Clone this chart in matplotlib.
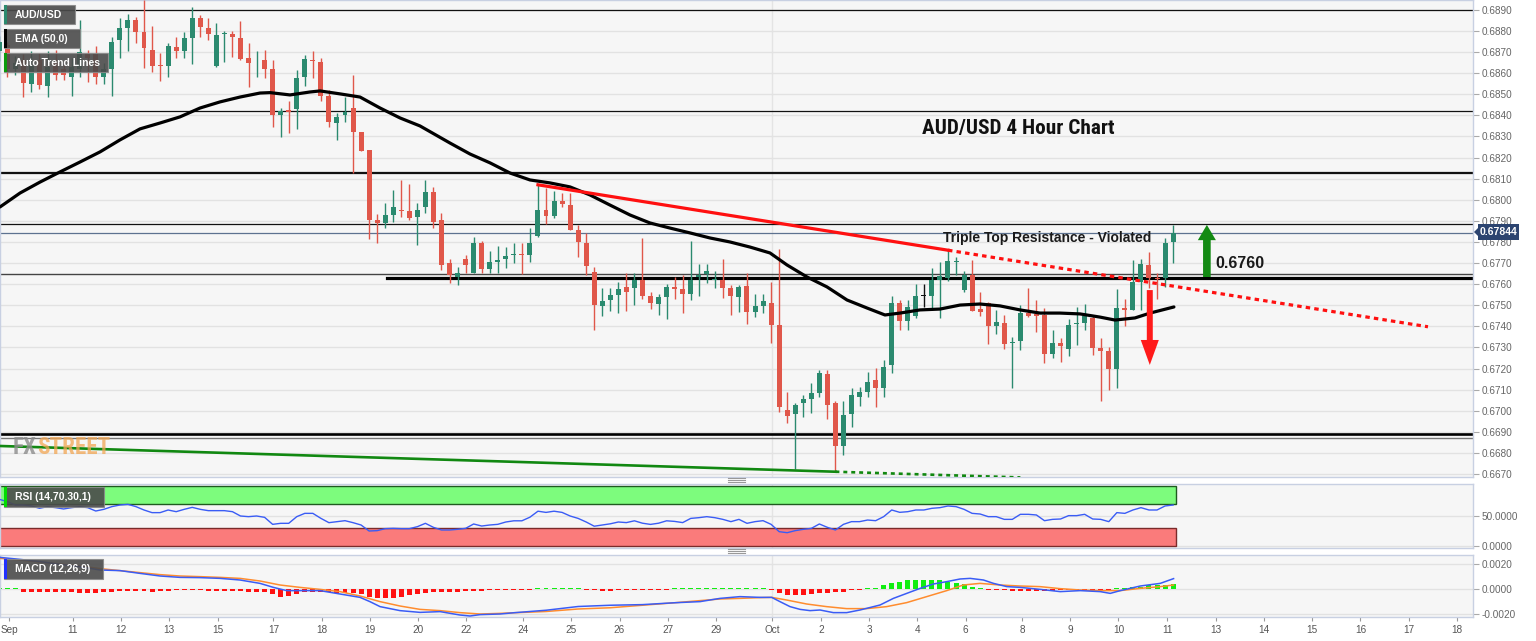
import numpy as np
import matplotlib
matplotlib.use('Agg')
import matplotlib.pyplot as plt
from matplotlib.patches import Rectangle
from matplotlib.lines import Line2D
from matplotlib import font_manager

plt.rcParams['font.family'] = ['Liberation Sans', 'DejaVu Sans']

# ---- 4h candles (index 0 = first visible bar) ----
opens = [0.68705, 0.68735, 0.68620, 0.68663, 0.68550, 0.68663, 0.68540, 0.68650, 0.68620, 0.68580,
         0.68620, 0.68690, 0.68690, 0.68580, 0.68620, 0.68758, 0.68813, 0.68850, 0.68794, 0.68710,
         0.68636, 0.68636, 0.68726, 0.68703, 0.68766, 0.68860, 0.68813, 0.68636, 0.68785, 0.68786,
         0.68766, 0.68674, 0.68656, 0.68663, 0.68619, 0.68402, 0.68425, 0.68429, 0.68581, 0.68664,
         0.68655, 0.68492, 0.68366, 0.68402, 0.68434, 0.68319, 0.68237, 0.67905, 0.67889, 0.67928,
         0.67950, 0.67949, 0.67917, 0.67965, 0.68039, 0.67905, 0.67699, 0.67636, 0.67718, 0.67652,
         0.67794, 0.67671, 0.67707, 0.67718, 0.67737, 0.67739, 0.67737, 0.67826, 0.67952, 0.67924,
         0.67992, 0.67976, 0.67857, 0.67797, 0.67659, 0.67498, 0.67524, 0.67548, 0.67588, 0.67580,
         0.67619, 0.67545, 0.67505, 0.67540, 0.67588, 0.67577, 0.67553, 0.67635, 0.67646, 0.67619,
         0.67619, 0.67583, 0.67540, 0.67591, 0.67466, 0.67498, 0.67509, 0.67406, 0.67003, 0.66984,
         0.67035, 0.67054, 0.67082, 0.67174, 0.67038, 0.66834, 0.66984, 0.67066, 0.67087, 0.67145,
         0.67110, 0.67216, 0.67509, 0.67426, 0.67450, 0.67545, 0.67545, 0.67622, 0.67630, 0.67707,
         0.67572, 0.67643, 0.67480, 0.67509, 0.67403, 0.67417, 0.67322, 0.67332, 0.67461, 0.67458,
         0.67456, 0.67268, 0.67319, 0.67291, 0.67412, 0.67414, 0.67441, 0.67298, 0.67283, 0.67197,
         0.67487, 0.67477, 0.67611, 0.67690, 0.67630, 0.67627, 0.67801]
highs = [0.68775, 0.68750, 0.68680, 0.68690, 0.68703, 0.68695, 0.68703, 0.68710, 0.68640, 0.68670,
         0.68850, 0.68710, 0.68730, 0.68650, 0.68770, 0.68860, 0.68880, 0.68868, 0.68947, 0.68824,
         0.68695, 0.68745, 0.68770, 0.68793, 0.68913, 0.68876, 0.68860, 0.68840, 0.68802, 0.68802,
         0.68849, 0.68742, 0.68707, 0.68710, 0.68663, 0.68434, 0.68466, 0.68616, 0.68687, 0.68703,
         0.68671, 0.68521, 0.68410, 0.68486, 0.68592, 0.68323, 0.68237, 0.67933, 0.67984, 0.68047,
         0.68092, 0.68076, 0.67984, 0.68094, 0.68060, 0.67936, 0.67718, 0.67680, 0.67739, 0.67823,
         0.67807, 0.67755, 0.67782, 0.67775, 0.67797, 0.67794, 0.67865, 0.68071, 0.68055, 0.68044,
         0.68034, 0.68034, 0.67881, 0.67842, 0.67682, 0.67584, 0.67584, 0.67611, 0.67651, 0.67651,
         0.67817, 0.67564, 0.67553, 0.67603, 0.67635, 0.67643, 0.67804, 0.67695, 0.67695, 0.67663,
         0.67717, 0.67596, 0.67596, 0.67651, 0.67553, 0.67553, 0.67611, 0.67766, 0.67087, 0.67039,
         0.67074, 0.67130, 0.67193, 0.67193, 0.67047, 0.67047, 0.67106, 0.67114, 0.67185, 0.67201,
         0.67240, 0.67545, 0.67524, 0.67524, 0.67603, 0.67603, 0.67679, 0.67703, 0.67761, 0.67727,
         0.67663, 0.67714, 0.67561, 0.67517, 0.67477, 0.67453, 0.67351, 0.67501, 0.67584, 0.67524,
         0.67485, 0.67382, 0.67343, 0.67433, 0.67493, 0.67505, 0.67453, 0.67343, 0.67303, 0.67575,
         0.67532, 0.67714, 0.67717, 0.67754, 0.67651, 0.67817, 0.67880]
lows = [0.68660, 0.68580, 0.68590, 0.68489, 0.68513, 0.68524, 0.68486, 0.68570, 0.68570, 0.68490,
        0.68580, 0.68560, 0.68550, 0.68550, 0.68490, 0.68671, 0.68707, 0.68742, 0.68623, 0.68608,
        0.68563, 0.68584, 0.68671, 0.68671, 0.68644, 0.68770, 0.68758, 0.68630, 0.68655, 0.68679,
        0.68663, 0.68533, 0.68584, 0.68576, 0.68344, 0.68297, 0.68316, 0.68334, 0.68537, 0.68576,
        0.68466, 0.68344, 0.68284, 0.68371, 0.68126, 0.68229, 0.67813, 0.67794, 0.67865, 0.67897,
        0.67920, 0.67905, 0.67786, 0.67936, 0.67865, 0.67668, 0.67605, 0.67597, 0.67652, 0.67652,
        0.67655, 0.67655, 0.67655, 0.67676, 0.67699, 0.67649, 0.67703, 0.67823, 0.67886, 0.67913,
        0.67965, 0.67857, 0.67731, 0.67644, 0.67382, 0.67450, 0.67474, 0.67464, 0.67472, 0.67501,
        0.67532, 0.67480, 0.67456, 0.67434, 0.67532, 0.67464, 0.67524, 0.67545, 0.67607, 0.67580,
        0.67535, 0.67456, 0.67466, 0.67411, 0.67445, 0.67464, 0.67322, 0.66995, 0.66940, 0.66722,
        0.66971, 0.66987, 0.67066, 0.66959, 0.66711, 0.66790, 0.66924, 0.67022, 0.67066, 0.67019,
        0.67066, 0.67180, 0.67382, 0.67382, 0.67438, 0.67490, 0.67477, 0.67438, 0.67614, 0.67643,
        0.67564, 0.67472, 0.67450, 0.67316, 0.67366, 0.67295, 0.67106, 0.67287, 0.67445, 0.67374,
        0.67227, 0.67248, 0.67229, 0.67259, 0.67311, 0.67382, 0.67264, 0.67047, 0.67098, 0.67106,
        0.67403, 0.67477, 0.67477, 0.67584, 0.67531, 0.67588, 0.67701]
closes = [0.68750, 0.68620, 0.68650, 0.68552, 0.68640, 0.68545, 0.68631, 0.68590, 0.68590, 0.68630,
          0.68700, 0.68670, 0.68580, 0.68620, 0.68750, 0.68813, 0.68850, 0.68794, 0.68718, 0.68636,
          0.68634, 0.68731, 0.68703, 0.68766, 0.68860, 0.68818, 0.68785, 0.68782, 0.68788, 0.68770,
          0.68666, 0.68650, 0.68660, 0.68620, 0.68402, 0.68423, 0.68415, 0.68576, 0.68666, 0.68660,
          0.68492, 0.68371, 0.68394, 0.68418, 0.68319, 0.68233, 0.67905, 0.67889, 0.67928, 0.67965,
          0.67948, 0.67916, 0.67952, 0.68039, 0.67897, 0.67691, 0.67644, 0.67655, 0.67691, 0.67794,
          0.67671, 0.67706, 0.67714, 0.67734, 0.67739, 0.67737, 0.67797, 0.67952, 0.67924, 0.67992,
          0.67981, 0.67857, 0.67802, 0.67684, 0.67501, 0.67521, 0.67548, 0.67575, 0.67564, 0.67619,
          0.67545, 0.67512, 0.67537, 0.67588, 0.67577, 0.67553, 0.67622, 0.67643, 0.67663, 0.67622,
          0.67583, 0.67543, 0.67588, 0.67466, 0.67498, 0.67521, 0.67406, 0.67016, 0.66976, 0.67027,
          0.67054, 0.67082, 0.67180, 0.67027, 0.66834, 0.66982, 0.67074, 0.67087, 0.67134, 0.67110,
          0.67208, 0.67509, 0.67426, 0.67493, 0.67545, 0.67545, 0.67622, 0.67638, 0.67709, 0.67711,
          0.67643, 0.67472, 0.67470, 0.67403, 0.67419, 0.67316, 0.67326, 0.67461, 0.67450, 0.67450,
          0.67268, 0.67319, 0.67308, 0.67406, 0.67416, 0.67449, 0.67298, 0.67284, 0.67197, 0.67487,
          0.67477, 0.67611, 0.67695, 0.67630, 0.67626, 0.67796, 0.67844]

# EMA(50) at bar positions
ema_idx = [0.09, 2.58, 5.07, 7.55, 10.04, 12.53, 15.02, 17.5, 20.0, 22.48, 24.97, 27.46, 29.94, 32.43,
           33.67, 36.16, 38.65, 39.9, 42.38, 44.87, 47.36, 49.84, 52.33, 56.06, 58.55, 61.04, 63.52,
           66.01, 68.5, 70.99, 73.47, 75.96, 78.45, 80.94, 83.42, 85.91, 88.4, 90.89, 93.37, 95.86,
           97.98, 100.47, 102.95, 105.44, 107.93, 110.16, 112.03, 114.52, 117.0, 119.5, 121.98,
           124.47, 126.96, 129.44, 131.93, 134.42, 136.9, 138.77, 141.26, 143.13, 146.1]
ema_val = [0.67966, 0.68032, 0.68084, 0.68132, 0.68179, 0.68227, 0.68284, 0.68336, 0.68364, 0.68393,
           0.68435, 0.68464, 0.68487, 0.68506, 0.68508, 0.68497, 0.68511, 0.68516, 0.68502, 0.68487,
           0.68435, 0.68388, 0.68350, 0.68269, 0.68217, 0.68175, 0.68127, 0.68094, 0.68080, 0.68061,
           0.68023, 0.67975, 0.67928, 0.67890, 0.67866, 0.67843, 0.67819, 0.67800, 0.67776, 0.67748,
           0.67691, 0.67634, 0.67587, 0.67525, 0.67487, 0.67454, 0.67463, 0.67478, 0.67482, 0.67501,
           0.67506, 0.67497, 0.67478, 0.67463, 0.67463, 0.67459, 0.67444, 0.67430, 0.67440, 0.67463,
           0.67492]

# horizontal support / resistance levels
levels_thin = [0.68900, 0.68421, 0.68131, 0.68125, 0.67884]
level_676_full = 0.67647
level_676_thick = 0.67631
level_669_thick = 0.66889
level_669_thin = 0.66872
last_price = 0.67844

# trend lines (bar index, price)
red_trend = ([67, 118], [0.68071, 0.67761])
red_trend_end = 177.7
green_trend = ([0.09, 104], [0.66833, 0.66711])
green_trend_end = 127.0

# RSI(14)
rsi = [77.8, 73.9, 68.3, 68.3, 66.7, 62.8, 65.6, 63.9, 61.7, 63.9, 65.6, 63.9, 58.3, 61.1, 65.6,
       68.3, 69.4, 65.6, 60.0, 55.6, 55.6, 60.0, 57.2, 61.1, 64.4, 61.1, 58.9, 58.9, 58.9, 57.2,
       50.0, 48.9, 50.0, 47.8, 36.1, 37.8, 37.8, 48.9, 54.4, 54.4, 46.1, 38.9, 40.6, 42.2, 38.9,
       35.0, 25.0, 25.6, 28.9, 29.4, 28.9, 28.9, 32.2, 37.8, 31.1, 26.7, 26.7, 27.8, 29.4, 36.7,
       33.3, 35.0, 36.1,
       40.0, 42.0, 42.0, 48.0, 58.0, 56.0, 58.0, 56.0, 50.0, 46.0, 40.0, 33.0, 35.0, 37.0, 40.0,
       39.0, 42.0, 38.0, 36.0, 38.0, 42.0, 41.0, 39.0, 46.0,
       47.2, 48.9, 47.2, 44.4, 40.6, 44.4, 37.8, 40.6, 42.2, 36.1, 23.9, 22.2, 25.6, 27.8, 29.4,
       36.7, 31.1, 26.7, 36.1, 40.6, 40.6, 43.3, 42.2, 48.9, 60.0, 56.1, 57.2, 60.0, 60.0, 62.8,
       63.9, 66.7, 65.6, 61.1, 54.4, 53.3, 48.9, 48.9, 44.4, 44.4, 52.8, 52.8, 51.7, 42.2, 44.4,
       45.0, 50.6, 50.6, 52.8, 45.0, 44.4, 40.6, 55.6, 54.4, 60.0, 63.9, 60.0, 60.0, 66.7, 68.3]

# MACD(12,26,9)
macd_idx = [0.09, 2.58, 5.07, 7.55, 10.04, 12.53, 15.02, 17.5, 20.0, 22.48, 24.97, 27.46, 29.94,
            32.43, 34.09, 35.75, 37.4, 39.9, 42.38, 44.87, 46.1, 47.36, 49.84, 52.33, 54.82, 57.3,
            58.55, 59.8, 62.28, 64, 68, 72, 76, 80, 84, 87.16, 89.65, 92.13, 94.62, 96.07, 97.1,
            98.35, 99.6, 100.84, 102.08, 103.74, 105.4, 107.06, 109.55, 111.21, 112.87, 114.53,
            116.19, 117.85, 119.5, 120.75, 122.41, 123.66, 125.32, 126.98, 129.47, 131.96, 134.45,
            136.94, 138.18, 139.43, 141.92, 144.4, 146.06]
macd_val = [0.00253, 0.00237, 0.00219, 0.00197, 0.00179, 0.00152, 0.00147, 0.00125, 0.00104,
            0.00093, 0.00091, 0.00085, 0.00072, 0.00045, 0.00013, -0.00013, -0.00013, -0.00013,
            -0.00040, -0.00067, -0.00101, -0.00141, -0.00173, -0.00187, -0.00181, -0.00208,
            -0.00216, -0.00205, -0.00200, -0.00190, -0.00170, -0.00140, -0.00130, -0.00125,
            -0.00110, -0.00101, -0.00075, -0.00061, -0.00067, -0.00067, -0.00101, -0.00141,
            -0.00163, -0.00173, -0.00168, -0.00189, -0.00189, -0.00168, -0.00128, -0.00075,
            -0.00035, 0.00005, 0.00040, 0.00059, 0.00080, 0.00085, 0.00072, 0.00045, 0.00019,
            0.00013, -0.00003, -0.00021, -0.00013, -0.00021, -0.00035, -0.00013, 0.00024, 0.00045,
            0.00083]
signal_idx = [0.09, 2.58, 5.07, 7.55, 10.04, 12.53, 15.02, 17.5, 20.0, 22.48, 24.97, 27.46, 29.94,
              32.43, 34.92, 37.4, 39.9, 42.38, 44.87, 47.36, 49.84, 52.33, 54.82, 57.3, 59.8, 62.28,
              64, 68, 72, 76, 80, 84, 87.16, 89.65, 92.13, 94.62, 96.07, 97.93, 100.42, 102.9,
              105.39, 107.88, 110.37, 112.86, 115.35, 117.84, 119.91, 121.98, 124.47, 126.96,
              129.45, 131.94, 134.43, 136.92, 139.41, 141.9, 144.39, 146.05]
signal_val = [0.00245, 0.00232, 0.00216, 0.00200, 0.00184, 0.00163, 0.00147, 0.00131, 0.00115,
              0.00104, 0.00099, 0.00093, 0.00085, 0.00064, 0.00032, 0.00013, -0.00003, -0.00021,
              -0.00056, -0.00101, -0.00136, -0.00163, -0.00173, -0.00189, -0.00200, -0.00195,
              -0.00190, -0.00180, -0.00160, -0.00150, -0.00130, -0.00110, -0.00093, -0.00080,
              -0.00075, -0.00069, -0.00067, -0.00088, -0.00120, -0.00141, -0.00157, -0.00157,
              -0.00141, -0.00109, -0.00061, -0.00013, 0.00032, 0.00045, 0.00032, 0.00024, 0.00019,
              0.00003, -0.00008, -0.00013, -0.00013, 0.00005, 0.00019, 0.00032]
hist = [0.00005, 0.00005, 0.00004,
        -0.00022, -0.00025, -0.00025, -0.00027, -0.00027, -0.00025,
        -0.00027, -0.00028, -0.00030, -0.00030, -0.00027,
        -0.00020, -0.00018, -0.00015, -0.00015, -0.00018, -0.00020,
        -0.00015, -0.00012, -0.00010, -0.00010, -0.00010, -0.00010, -0.00012, -0.00012, -0.00012,
        -0.00015, -0.00018, -0.00020, -0.00022, -0.00025,
        -0.00040, -0.00060, -0.00055, -0.00040,
        -0.00025, -0.00020, -0.00020, -0.00025, -0.00030, -0.00030, -0.00035, -0.00040,
        -0.00060, -0.00075, -0.00075, -0.00070, -0.00060, -0.00050,
        -0.00040, -0.00030, -0.00025, -0.00025, -0.00020, -0.00020, -0.00018, -0.00015, -0.00012,
        -0.00010, -0.00010,
        -0.00010, -0.00008, -0.00006, -0.00005, 0.00005, 0.00008, 0.00010, 0.00010, 0.00008,
        0.00005, -0.00005, -0.00010, -0.00012, -0.00012, -0.00010, -0.00010, -0.00008, -0.00008,
        -0.00006, -0.00005, -0.00003, 0.00002, 0.00004, 0.00006,
        0.00010, 0.00010, 0.00010, 0.00010, 0.00010, 0.00008, 0.00006, 0.00004, 0.00002,
        -0.00005, -0.00030, -0.00050, -0.00050, -0.00045, -0.00040, -0.00030, -0.00030, -0.00025,
        -0.00020,
        -0.00010, -0.00005, 0.00000,
        0.00010, 0.00030, 0.00050, 0.00060, 0.00070, 0.00070, 0.00075, 0.00070, 0.00070, 0.00060,
        0.00050, 0.00040, 0.00020, 0.00010,
        -0.00005, -0.00010, -0.00010, -0.00012, -0.00012, -0.00015, -0.00015, -0.00015, -0.00012,
        -0.00010, -0.00010, -0.00010, -0.00010, -0.00008, -0.00008, -0.00005,
        0.00005, 0.00010, 0.00015, 0.00020, 0.00030, 0.00030, 0.00035, 0.00040]

tick_pos = [1.2, 9.15, 15.15, 21.15, 27.15, 34.1, 40.1, 46.1, 52.1, 58.1, 65.1, 71.1, 77.15, 83.15,
            89.15, 96.15, 102.2, 108.2, 114.2, 120.2, 127.2, 133.2, 139.2, 145.3, 151.3, 157.3,
            163.3, 169.3, 175.3, 181.3]
tick_labels = ['Sep', '11', '12', '13', '15', '17', '18', '19', '20', '22', '24', '25', '26', '27',
               '29', 'Oct', '2', '3', '4', '6', '8', '9', '10', '11', '13', '14', '15', '16', '17',
               '18']

# ---------------------------------------------------------------
W, H = 1536, 641
fig = plt.figure(figsize=(W / 100, H / 100), dpi=100)
fig.patch.set_facecolor('white')
renderer = fig.canvas.get_renderer()

# narrow face for the big caption and the watermark, if one is installed
installed = {(f.name, f.stretch) for f in font_manager.fontManager.ttflist}
narrow = dict(family=['Liberation Sans', 'DejaVu Sans'])
for name in ('Liberation Sans Narrow', 'Roboto Condensed', 'Open Sans Condensed'):
    if any(n == name for n, _ in installed):
        narrow = dict(family=[name, 'DejaVu Sans'])
        break
else:
    if ('DejaVu Sans', 'condensed') in installed or ('DejaVu Sans', 'semi-condensed') in installed:
        narrow = dict(family=['DejaVu Sans'], stretch='condensed')


def fbox(x0, y0, x1, y1):
    return [x0 / W, 1 - y1 / H, (x1 - x0) / W, (y1 - y0) / H]


def fit_width(texts, target_px):
    total = sum(t.get_window_extent(renderer).width for t in texts)
    for t in texts:
        t.set_fontsize(t.get_fontsize() * target_px / total)


ax = fig.add_axes(fbox(0, 0, 1473, 477))
ax_rsi = fig.add_axes(fbox(0, 484, 1473, 548))
ax_macd = fig.add_axes(fbox(0, 555, 1473, 617))

XMIN, XMAX = 0.09, 183.3
BG = '#f6f6f6'
GRID = '#e2e2e2'
SPINE = '#c8d0e2'
UP, DOWN = '#2b8a6f', '#e0574a'

for a in (ax, ax_rsi, ax_macd):
    a.set_facecolor(BG)
    a.set_xlim(XMIN, XMAX)
    for s in a.spines.values():
        s.set_color(SPINE)
        s.set_linewidth(1)
    a.yaxis.tick_right()
    a.tick_params(axis='y', labelsize=7.2, labelcolor='#666666', color='#aaaaaa',
                  length=4, pad=2)
    a.axvline(96.15, color='#e4e4e4', lw=1, zorder=0)
    a.set_axisbelow(True)

# ---- main price panel ----
ax.set_ylim(0.66686, 0.68947)
yt = np.arange(0.6670, 0.68905, 0.0010)
ax.set_yticks(yt)
ax.set_yticklabels(['%.4f' % v for v in yt])
ax.yaxis.grid(True, color=GRID, lw=1)
ax.tick_params(axis='x', bottom=False, labelbottom=False)

o = np.array(opens); h = np.array(highs); l = np.array(lows); c = np.array(closes)
idx = np.arange(len(o))
cols = np.where(c > o, UP, np.where(c < o, DOWN, '#111111'))
ax.vlines(idx, l, h, colors=cols, lw=1, zorder=3)
ax.bar(idx, np.maximum(np.abs(c - o), 0.00004), bottom=np.minimum(o, c), width=0.62,
       color=cols, zorder=4)

for lv in levels_thin:
    ax.axhline(lv, color='#111111', lw=0.9, zorder=2)
ax.axhline(level_676_full, color='#444444', lw=1.0, zorder=2)
ax.plot([48.2, XMAX], [level_676_thick] * 2, color='black', lw=2.3, zorder=2)
ax.axhline(level_669_thick, color='black', lw=1.9, zorder=2)
ax.axhline(level_669_thin, color='#777777', lw=1.0, zorder=2)
ax.axhline(last_price, color='#5d7290', lw=0.9, zorder=2)

ax.plot(ema_idx, ema_val, color='black', lw=2.3, zorder=5, solid_capstyle='round')

# red descending trend line and its dotted projection
rx, ry = red_trend
slope = (ry[1] - ry[0]) / (rx[1] - rx[0])
ax.plot(rx, ry, color='#ff1010', lw=2.3, zorder=6)
ax.plot([rx[1], red_trend_end], [ry[1], ry[1] + slope * (red_trend_end - rx[1])],
        color='#ff1010', lw=2.3, ls=(0, (1.4, 1.3)), zorder=6)

gx, gy = green_trend
gslope = (gy[1] - gy[0]) / (gx[1] - gx[0])
ax.plot(gx, gy, color='#118811', lw=1.9, zorder=6)
ax.plot([gx[1], green_trend_end], [gy[1], gy[1] + gslope * (green_trend_end - gx[1])],
        color='#118811', lw=1.9, ls=(0, (1.5, 1.5)), zorder=6)

# arrows
ax.annotate('', xy=(150.2, 0.67881), xytext=(150.2, 0.67634), zorder=7,
            arrowprops=dict(width=5.5, headwidth=13, headlength=11, fc='#138a13', ec='none'))
ax.annotate('', xy=(143.1, 0.67217), xytext=(143.1, 0.67572), zorder=7,
            arrowprops=dict(width=4.3, headwidth=13, headlength=18, fc='#ff1a1a', ec='none'))

ax.text(151.2, 0.67700, '0.6760', fontsize=11.5, fontweight='bold', color='#1a1a1a',
        va='center', ha='left', zorder=8)
ax.text(117.4, 0.67819, 'Triple Top Resistance - Violated', fontsize=10, fontweight='bold',
        color='#1a1a1a', va='center', ha='left', zorder=8)
title = ax.text(126.7, 0.68340, 'AUD/USD 4 Hour Chart', fontsize=17, fontweight='bold',
                color='#111111', va='center', ha='center', zorder=8, **narrow)
fit_width([title], 193)

# watermark: grey "FX" followed by orange "STREET"
wm_fx = fig.text(13 / W, 1 - 448 / H, 'FX', fontsize=17, fontweight='bold', color='#8c8c8c',
                 alpha=0.8, va='center', ha='left', **narrow)
wm_st = fig.text(40 / W, 1 - 448 / H, 'STREET', fontsize=17, fontweight='bold',
                 color='#f2a653', alpha=0.75, va='center', ha='left', **narrow)
fit_width([wm_fx, wm_st], 97)
fx_right = wm_fx.get_window_extent(renderer).x1
wm_st.set_x((fx_right + 0.5) / W)

# ---- RSI panel ----
ax_rsi.set_ylim(-3.3, 103.3)
ax_rsi.set_yticks([0, 50])
ax_rsi.set_yticklabels(['0.0000', '50.0000'])
ax_rsi.yaxis.grid(True, color=GRID, lw=1)
ax_rsi.tick_params(axis='x', bottom=False, labelbottom=False)
band_end = len(rsi) - 1 + 0.35
ax_rsi.add_patch(Rectangle((XMIN - 1, 70), band_end - XMIN + 1, 30, fc='#7dfc7d', ec='#1f5a1f',
                           lw=1, zorder=1))
ax_rsi.add_patch(Rectangle((XMIN - 1, 0), band_end - XMIN + 1, 30, fc='#fa7b7b', ec='#7a2b2b',
                           lw=1, zorder=1))
ax_rsi.plot(np.arange(len(rsi)), rsi, color='#3a5cf5', lw=1, zorder=3)

# ---- MACD panel ----
ax_macd.set_ylim(-0.00224, 0.00272)
ax_macd.set_yticks([-0.002, 0, 0.002])
ax_macd.set_yticklabels(['-0.0020', '0.0000', '0.0020'])
ax_macd.yaxis.grid(True, color=GRID, lw=1)
hv = np.array(hist)
# tiny bars still show as a short dash, as on the platform
hv_draw = np.where(np.abs(hv) < 0.00007, np.where(hv >= 0, 0.00007, -0.00007), hv)
ax_macd.bar(np.arange(len(hv)), hv_draw, width=0.62,
            color=np.where(hv >= 0, '#11ee11', '#ff1111'), zorder=2)
ax_macd.plot(signal_idx, signal_val, color='#ff8c2e', lw=1.1, zorder=3)
ax_macd.plot(macd_idx, macd_val, color='#3a5cf5', lw=1.1, zorder=4)
ax_macd.set_xticks(tick_pos)
ax_macd.set_xticklabels(tick_labels)
ax_macd.tick_params(axis='x', labelsize=7.2, labelcolor='#555555', color='#999999',
                    length=3, pad=3)


# ---- legend boxes and tags ----
def label_box(x0, y0, x1, y1, text, stripe):
    fig.add_artist(Rectangle((x0 / W, 1 - y1 / H), (x1 - x0) / W, (y1 - y0) / H,
                             transform=fig.transFigure, fc='#4b4b4b', ec='#8a8a8a', lw=0.8,
                             alpha=0.9, zorder=20))
    fig.add_artist(Rectangle((x0 / W, 1 - y1 / H), 3 / W, (y1 - y0) / H,
                             transform=fig.transFigure, fc=stripe, ec='none', zorder=21))
    fig.text((x0 + 11) / W, 1 - (y0 + y1) / 2 / H, text, color='white', fontsize=7.5,
             fontweight='bold', va='center', ha='left', zorder=22)


label_box(4, 5, 75, 24, 'AUD/USD', UP)
label_box(4, 29, 80, 48, 'EMA (50,0)', '#000000')
label_box(4, 53, 108, 72, 'Auto Trend Lines', '#0a9a0a')
label_box(4, 487, 104, 507, 'RSI (14,70,30,1)', '#00dd00')
label_box(4, 559, 103, 579, 'MACD (12,26,9)', '#2030ff')

# last price tag
fig.add_artist(Rectangle((1478 / W, 1 - 240 / H), 41 / W, 16 / H, transform=fig.transFigure,
                         fc='#2c4470', ec='none', zorder=20))
fig.add_artist(plt.Polygon([[1474 / W, 1 - 232 / H], [1478 / W, 1 - 228 / H],
                            [1478 / W, 1 - 236 / H]], transform=fig.transFigure,
                           fc='#2c4470', ec='none', zorder=20))
fig.text(1498.5 / W, 1 - 232 / H, '%.5f' % last_price, color='white', fontsize=7.5,
         fontweight='bold', va='center', ha='center', zorder=21)

# panel drag handles
for yy in (478, 549):
    for dy in (0, 2, 4):
        fig.add_artist(Line2D([728 / W, 745 / W], [1 - (yy + dy) / H] * 2,
                              transform=fig.transFigure, color='#999999', lw=0.8))

fig.savefig('out.png', dpi=100, facecolor='white')
